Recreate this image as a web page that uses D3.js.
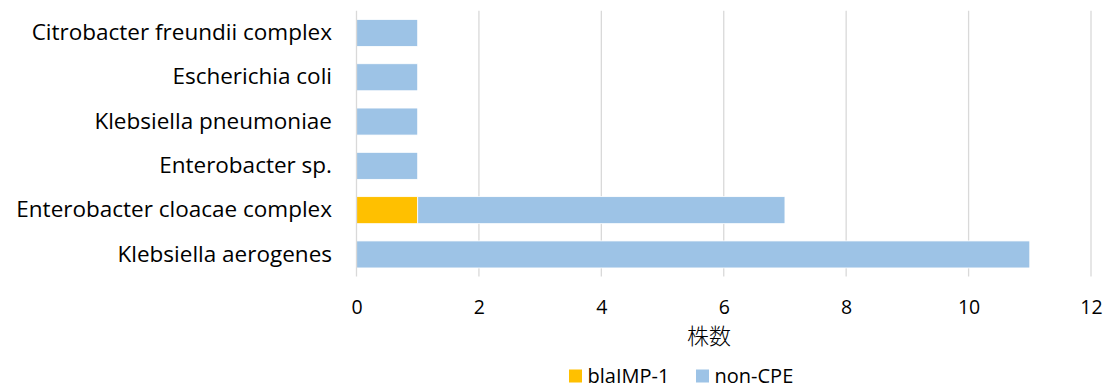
<!DOCTYPE html>
<html>
<head>
<meta charset="utf-8">
<script src="https://cdn.jsdelivr.net/npm/d3@7"></script>
<style>
  body { margin: 0; background: #fff; }
  svg { display: block; }
  text { font-family: "Open Sans", "Noto Sans", sans-serif; fill: #000; }
</style>
</head>
<body>
<svg id="chart" width="1115" height="387"></svg>
<script>
// Isolates per species, split by carbapenemase gene
const categories = [
  "Citrobacter freundii complex",
  "Escherichia coli",
  "Klebsiella pneumoniae",
  "Enterobacter sp.",
  "Enterobacter cloacae complex",
  "Klebsiella aerogenes"
];
const blaIMP1 = [0, 0, 0, 0, 1, 0];
const nonCPE  = [1, 1, 1, 1, 6, 11];
const seriesNames = ["blaIMP-1", "non-CPE"];
const seriesColors = ["#FFC000", "#9DC3E6"];
const xTicks = [0, 2, 4, 6, 8, 10, 12];
const xTitle = "株数";

const svg = d3.select("#chart");
const margin = { left: 356.5, right: 24, top: 10.8, bottom: 110.4 };
const W = 1115, H = 387;

const x = d3.scaleLinear().domain([0, 12]).range([margin.left, 1091]);
const y = d3.scaleBand().domain(categories).range([margin.top, H - margin.bottom])
  .paddingInner(0.39).paddingOuter(0.195);

const rows = categories.map((c, i) => ({ cat: c, "blaIMP-1": blaIMP1[i], "non-CPE": nonCPE[i] }));
const stacked = d3.stack().keys(seriesNames)(rows);

// vertical gridlines
svg.append("g")
  .selectAll("line")
  .data(xTicks.filter(t => t > 0))
  .join("line")
  .attr("x1", d => x(d)).attr("x2", d => x(d))
  .attr("y1", margin.top).attr("y2", H - margin.bottom)
  .attr("stroke", "#D9D9D9").attr("stroke-width", 1.3);

// bars
svg.append("g")
  .selectAll("g")
  .data(stacked)
  .join("g")
  .attr("fill", (d, i) => seriesColors[i])
  .selectAll("rect")
  .data(d => d.map(v => ({ v, cat: v.data.cat })))
  .join("rect")
  .filter(d => d.v[1] - d.v[0] > 0)
  .attr("x", d => x(d.v[0]))
  .attr("width", d => x(d.v[1]) - x(d.v[0]))
  .attr("y", d => y(d.cat))
  .attr("height", y.bandwidth())
  .attr("stroke", "#fff").attr("stroke-width", 0.8);

// value axis baseline
svg.append("line")
  .attr("x1", x(0)).attr("x2", x(0))
  .attr("y1", margin.top).attr("y2", H - margin.bottom)
  .attr("stroke", "#D9D9D9").attr("stroke-width", 1.3);

// x tick labels
const xAxis = d3.axisBottom(x).tickValues(xTicks).tickSize(0).tickPadding(0);
const gx = svg.append("g")
  .attr("transform", `translate(0,${H - margin.bottom})`)
  .call(xAxis);
gx.select(".domain").remove();
gx.selectAll("text")
  .attr("dy", null).attr("y", 37.5)
  .style("font-size", "19.5px").style("font-family", '"Open Sans", sans-serif').attr("fill", "#000");

// category labels
const yAxis = d3.axisLeft(y).tickSize(0).tickPadding(24.5);
const gy = svg.append("g")
  .attr("transform", `translate(${margin.left},0)`)
  .call(yAxis);
gy.select(".domain").remove();
gy.selectAll("text").style("font-size", "22.5px").style("font-family", '"Open Sans", sans-serif').attr("fill", "#000");

// axis title
svg.append("text")
  .attr("x", 709).attr("y", 344)
  .attr("text-anchor", "middle")
  .style("font-family", '"Noto Sans CJK JP", sans-serif')
  .style("font-weight", 300)
  .style("font-size", "22px")
  .attr("fill", "#333")
  .text(xTitle);

// legend
const legendItems = [
  { name: seriesNames[0], color: seriesColors[0], x: 569 },
  { name: seriesNames[1], color: seriesColors[1], x: 696 }
];
const lg = svg.append("g");
legendItems.forEach(it => {
  lg.append("rect").attr("x", it.x).attr("y", 369.5).attr("width", 13).attr("height", 13).attr("fill", it.color);
  lg.append("text").attr("x", it.x + 18.5).attr("y", 382.5)
    .style("font-size", "20px").text(it.name);
});
</script>
</body>
</html>
